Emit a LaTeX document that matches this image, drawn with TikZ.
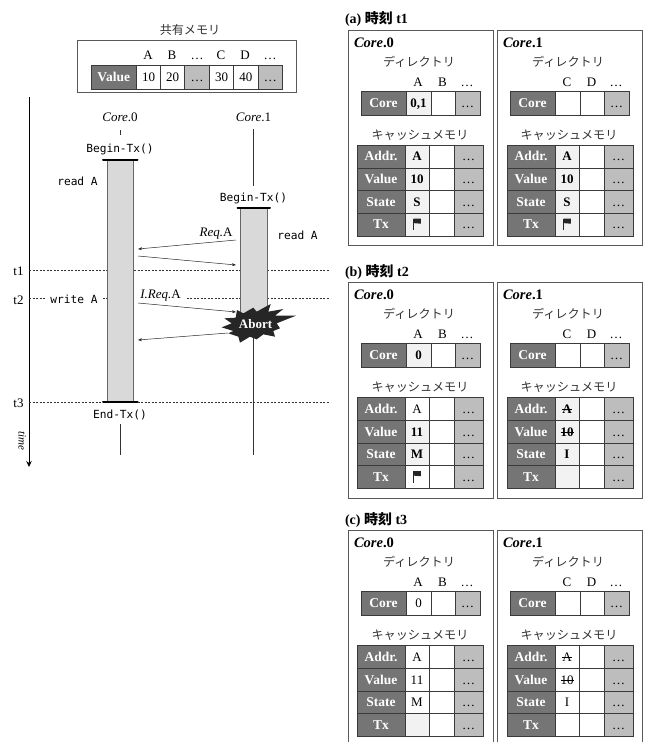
\documentclass[tikz,border=0pt]{standalone}
\usepackage{fontspec}
\setmainfont{Liberation Serif}
\setmonofont{DejaVu Sans Mono}
\newfontfamily\cjk{Noto Sans CJK JP}
\newcommand\strk[1]{\leavevmode\setbox0\hbox{#1}\rlap{\rule[0.28em]{\wd0}{0.6pt}}\box0}
\usetikzlibrary{arrows.meta}
\definecolor{lab}{HTML}{757575}
\definecolor{dots}{HTML}{BDBDBD}
\definecolor{hil}{HTML}{F2F2F2}
\definecolor{bord}{HTML}{3A3A3A}
\tikzset{
  x=1pt,y=-1pt,
  every node/.style={inner sep=0pt,outer sep=0pt,text height=8.5pt,text depth=0pt,font=\fontsize{13}{14}\selectfont},
  cellbox/.style={draw=bord,line width=0.7pt},
  labtext/.style={text=white,font=\fontsize{13.5}{14}\selectfont\bfseries},
  boldval/.style={font=\fontsize{13}{14}\selectfont\bfseries},
  plainval/.style={},
  frame/.style={draw=black!65,line width=0.9pt},
  mono/.style={font=\fontsize{11.2}{12}\selectfont\ttfamily},
  jp/.style={font=\fontsize{12.1}{13}\selectfont\cjk,text=black!80},
  dashline/.style={line width=0.6pt,dash pattern=on 2pt off 1.5pt,draw=black!80},
  msg/.style={-{Stealth[length=4pt,width=3pt]},line width=0.5pt,draw=black!85},
  bartop/.style={line width=2pt,line cap=round},
  barbody/.style={fill=black!15,draw=black!60,line width=1pt},
  life/.style={line width=0.6pt,draw=black!80},
  titletext/.style={anchor=west,font=\fontsize{14}{15}\selectfont\bfseries}
}
% [style] x1 x2 y1 y2 fill text name
\newcommand\cell[8][]{\path[cellbox,fill=#6] (#2,#4) rectangle (#3,#5);
  \node[#1] (#8) at ({(#2+#3)/2},{(#4+#5)/2}) {#7};}
\newcommand\flagmark[2]{\draw[line width=0.7pt,black!85] (#1-3.5,#2-6)--(#1-3.5,#2+5.5);
  \fill[black!85] (#1-3.5,#2-6)--(#1+3.8,#2-6)--(#1+3.8,#2-0.8)--(#1-3.5,#2-1.4)--cycle;}
% prefix, dx, dy, core number, hdr1, hdr2, core cell fill, core cell style, core cell text
\newcommand\corehead[9]{%
  \begin{scope}[shift={(#2,#3)}]
  \node[anchor=west,font=\fontsize{14.5}{15}\selectfont\bfseries] (#1name) at (6,43) {\textit{Core}.#4};
  \node[jp] (#1dir) at (71,62) {ディレクトリ};
  \node (#1ha) at (70,82) {#5};
  \node (#1hb) at (94.5,82) {#6};
  \node (#1hc) at (119,82) {\dots};
  \cell[labtext]{13}{58}{91}{115}{lab}{Core}{#1core}
  \cell[#8]{58}{83}{91}{115}{#7}{#9}{#1corea}
  \cell{83}{107}{91}{115}{white}{}{#1coreb}
  \cell{107}{132}{91}{115}{dots}{\dots}{#1corec}
  \node[jp] (#1cache) at (72,135) {キャッシュメモリ};
  \end{scope}}
% prefix, dx, dy, y1, y2, label, fill, style, text
\newcommand\cacherow[9]{%
  \begin{scope}[shift={(#2,#3)}]
  \cell[labtext]{9}{57}{#4}{#5}{lab}{#6}{#1l#4}
  \cell[#8]{57}{81}{#4}{#5}{#7}{#9}{#1a#4}
  \cell{81}{106}{#4}{#5}{white}{}{#1b#4}
  \cell{106}{135}{#4}{#5}{dots}{\dots}{#1c#4}
  \end{scope}}
% full panel frame
\newcommand\pframe[3]{\draw[frame] (#1,#2+30) rectangle (#1+145,#2+245.5);}
\begin{document}
\begin{tikzpicture}
\useasboundingbox (0,0) rectangle (646,742);
% ---- shared memory
\node[jp] (shtitle) at (190,30) {共有メモリ};
\draw[frame] (77,40) rectangle (296,92);
\foreach \n/\t/\x in {ha/A/148,hb/B/172,hc/\dots/197,hd/C/221,he/D/245,hf/\dots/270}
  \node (sm\n) at (\x,55) {\t};
\cell[labtext]{91}{136.5}{65.5}{89.5}{lab}{Value}{smlab}
\cell{136.5}{160.5}{65.5}{89.5}{white}{10}{sma}
\cell{160.5}{184.5}{65.5}{89.5}{white}{20}{smb}
\cell{184.5}{209.5}{65.5}{89.5}{dots}{\dots}{smc}
\cell{209.5}{233.5}{65.5}{89.5}{white}{30}{smd}
\cell{233.5}{258}{65.5}{89.5}{white}{40}{sme}
\cell{258}{282.5}{65.5}{89.5}{dots}{\dots}{smf}
% ---- time axis
\coordinate (ttop) at (29,97);
\coordinate (tbot) at (29,467);
\draw[-{Stealth[length=6pt,width=5.5pt]},line width=1pt] (ttop) -- (tbot);
\node[rotate=-90,font=\fontsize{11}{12}\selectfont\itshape,text height=6pt] (timelab) at (21.5,441) {time};
% ---- dashed time lines
\coordinate (t1a) at (29,270.5); \coordinate (t1b) at (330,270.5);
\coordinate (t2a) at (29,298.5); \coordinate (t2b) at (330,298.5);
\coordinate (t3a) at (29,402);   \coordinate (t3b) at (330,402);
\draw[dashline] (t1a) -- (t1b);
\draw[dashline] (t2a) -- (t2b);
\draw[dashline] (t3a) -- (t3b);
\node (t1) at (18.5,271) {t1};
\node (t2) at (18.5,300) {t2};
\node (t3) at (18.5,403) {t3};
% ---- lifelines
\node (c0) at (120,117) {\textit{Core}.0};
\node (c1) at (253.5,117) {\textit{Core}.1};
\coordinate (c0a) at (120,130); \coordinate (c0b) at (120,135);
\coordinate (c0c) at (120,424); \coordinate (c0d) at (120,455);
\coordinate (c1a) at (253.5,129); \coordinate (c1b) at (253.5,186);
\coordinate (c1c) at (253.5,335); \coordinate (c1d) at (253.5,455);
\draw[life] (c0a) -- (c0b);
\draw[life] (c0c) -- (c0d);
\draw[life] (c1a) -- (c1b);
\draw[life] (c1c) -- (c1d);
% ---- bars
\draw[barbody] (107,159) rectangle (133.5,402);
\draw[barbody] (240.5,207) rectangle (267,320);
\draw[bartop] (103,159.5) -- (137.5,159.5);
\draw[bartop] (103,402) -- (137.5,402);
\draw[bartop] (237.5,207.5) -- (270,207.5);
% ---- labels
\node[mono] (beg0) at (120,148) {Begin-Tx()};
\node[mono] (beg1) at (253.5,197) {Begin-Tx()};
\node[mono] (end0) at (120,414) {End-Tx()};
\node[mono] (rd0) at (77.5,181) {read A};
\node[mono] (rd1) at (297.5,235) {read A};
\node[mono,fill=white,inner xsep=4pt,inner ysep=1pt] (wr0) at (74,299) {write A};
\node (rq) at (216,232) {\textit{Req.}A};
\node[fill=white,inner xsep=6pt,inner ysep=1pt] (irq) at (160.5,294.5) {\textit{I.Req.}A};
% ---- messages
\coordinate (m1a) at (236,240); \coordinate (m1b) at (138,249);
\coordinate (m2a) at (138,256); \coordinate (m2b) at (236,265);
\coordinate (m3a) at (138,303); \coordinate (m3b) at (236,312);
\coordinate (m4a) at (228,333); \coordinate (m4b) at (138,340);
\draw[msg] (m1a) -- (m1b);
\draw[msg] (m2a) -- (m2b);
\draw[msg] (m3a) -- (m3b);
\draw[msg] (m4a) -- (m4b);
% ---- abort star
\fill[black!85] [shift={(215,295)},x=0.3333pt,y=-0.3333pt]
  (28,70)--(62,68)--(66,45)--(85,55)--(115,38)--(125,50)--(167,27)--(160,50)--(205,42)--(180,62)--(243,62)--(185,85)--(195,100)--(175,108)--(180,125)--(145,118)--(125,133)--(105,125)--(75,143)--(70,125)--(40,115)--(55,108)--(20,97)--(50,85)--cycle;
\node[font=\fontsize{13}{14}\selectfont\bfseries,text=white] (abort) at (255.5,324.5) {Abort};
% ---- panel titles
\node[titletext] (ta) at (345,19) {(a) {\cjk 時刻} t1};
\node[titletext] (tb) at (345,272) {(b) {\cjk 時刻} t2};
\node[titletext] (tc) at (345,520) {(c) {\cjk 時刻} t3};
% ---- panel a
\pframe{348}{0}{}\pframe{497}{0}{}
\corehead{a0}{348}{0}{0}{A}{B}{hil}{boldval}{0,1}
\cacherow{a0}{348}{0}{145}{168}{Addr.}{hil}{boldval}{A}
\cacherow{a0}{348}{0}{168}{190.5}{Value}{hil}{boldval}{10}
\cacherow{a0}{348}{0}{190.5}{213}{State}{hil}{boldval}{S}
\cacherow{a0}{348}{0}{213}{236}{Tx}{hil}{plainval}{}
\flagmark{417}{224.5}
\corehead{a1}{497}{0}{1}{C}{D}{white}{plainval}{}
\cacherow{a1}{498}{0}{145}{168}{Addr.}{hil}{boldval}{A}
\cacherow{a1}{498}{0}{168}{190.5}{Value}{hil}{boldval}{10}
\cacherow{a1}{498}{0}{190.5}{213}{State}{hil}{boldval}{S}
\cacherow{a1}{498}{0}{213}{236}{Tx}{hil}{plainval}{}
\flagmark{567}{224.5}
% ---- panel b
\pframe{348}{252.5}{}\pframe{497}{252.5}{}
\corehead{b0}{348}{252.5}{0}{A}{B}{hil}{boldval}{0}
\cacherow{b0}{348}{252.5}{145}{168}{Addr.}{white}{plainval}{A}
\cacherow{b0}{348}{252.5}{168}{190.5}{Value}{hil}{boldval}{11}
\cacherow{b0}{348}{252.5}{190.5}{213}{State}{hil}{boldval}{M}
\cacherow{b0}{348}{252.5}{213}{236}{Tx}{white}{plainval}{}
\flagmark{417}{477}
\corehead{b1}{497}{252.5}{1}{C}{D}{white}{plainval}{}
\cacherow{b1}{498}{252.5}{145}{168}{Addr.}{hil}{boldval}{\strk{A}}
\cacherow{b1}{498}{252.5}{168}{190.5}{Value}{hil}{boldval}{\strk{10}}
\cacherow{b1}{498}{252.5}{190.5}{213}{State}{hil}{boldval}{I}
\cacherow{b1}{498}{252.5}{213}{236}{Tx}{hil}{plainval}{}
% ---- panel c (runs off the page foot)
\coordinate (cf0a) at (348,530.5); \coordinate (cf0b) at (493,530.5);
\coordinate (cf1a) at (497,530.5); \coordinate (cf1b) at (642,530.5);
\draw[frame] (348,743) -- (cf0a) -- (cf0b) -- (493,743);
\draw[frame] (497,743) -- (cf1a) -- (cf1b) -- (642,743);
\corehead{c0}{348}{500.5}{0}{A}{B}{white}{plainval}{0}
\cacherow{c0}{348}{500.5}{145}{168}{Addr.}{white}{plainval}{A}
\cacherow{c0}{348}{500.5}{168}{190.5}{Value}{white}{plainval}{11}
\cacherow{c0}{348}{500.5}{190.5}{213}{State}{white}{plainval}{M}
\cacherow{c0}{348}{500.5}{213}{236}{Tx}{hil}{plainval}{}
\corehead{c1}{497}{500.5}{1}{C}{D}{white}{plainval}{}
\cacherow{c1}{498}{500.5}{145}{168}{Addr.}{white}{plainval}{\strk{A}}
\cacherow{c1}{498}{500.5}{168}{190.5}{Value}{white}{plainval}{\strk{10}}
\cacherow{c1}{498}{500.5}{190.5}{213}{State}{white}{plainval}{I}
\cacherow{c1}{498}{500.5}{213}{236}{Tx}{white}{plainval}{}
\end{tikzpicture}
\end{document}
